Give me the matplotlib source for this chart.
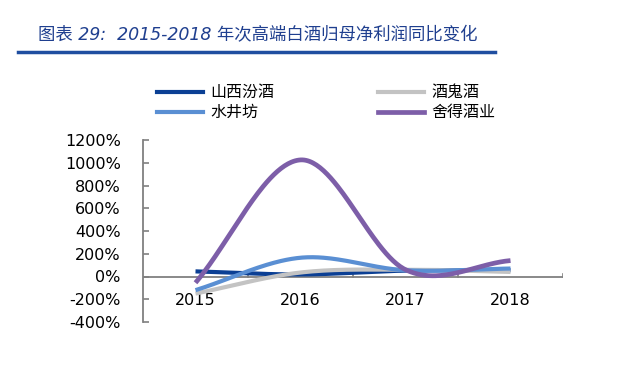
import numpy as np
import matplotlib
matplotlib.use("Agg")
import matplotlib.pyplot as plt
from matplotlib.lines import Line2D

plt.rcParams['font.family'] = ['DejaVu Sans', 'Noto Sans CJK SC']

years = ['2015', '2016', '2017', '2018']
fenjiu = [45, 18, 52, 55]        # 山西汾酒
jiuguijiu = [-150, 35, 60, 40]   # 酒鬼酒
shuijingfang = [-120, 165, 55, 70]  # 水井坊
shede = [-55, 1025, 60, 140]     # 舍得酒业
names = ['山西汾酒', '酒鬼酒', '水井坊', '舍得酒业']
colors = ['#0b3f94', '#c3c3c3', '#5a8fd3', '#7d5ea8']
widths = [3.0, 3.0, 3.0, 3.4]
yticks = list(range(-400, 1201, 200))
title = '图表 29:  2015-2018 年次高端白酒归母净利润同比变化'


def smooth(xs, ys, n=60):
    # Catmull-Rom style smoothing similar to Excel's smoothed line
    xs = np.asarray(xs, float); ys = np.asarray(ys, float)
    px = np.concatenate([[2 * xs[0] - xs[1]], xs, [2 * xs[-1] - xs[-2]]])
    py = np.concatenate([[2 * ys[0] - ys[1]], ys, [2 * ys[-1] - ys[-2]]])
    ox, oy = [], []
    for i in range(1, len(px) - 2):
        t = np.linspace(0, 1, n)
        p0, p1, p2, p3 = py[i - 1], py[i], py[i + 1], py[i + 2]
        x0, x1, x2, x3 = px[i - 1], px[i], px[i + 1], px[i + 2]
        b1y = p1 + (p2 - p0) / 6; b2y = p2 - (p3 - p1) / 6
        b1x = x1 + (x2 - x0) / 6; b2x = x2 - (x3 - x1) / 6
        yy = (1 - t) ** 3 * p1 + 3 * (1 - t) ** 2 * t * b1y + 3 * (1 - t) * t ** 2 * b2y + t ** 3 * p2
        xx = (1 - t) ** 3 * x1 + 3 * (1 - t) ** 2 * t * b1x + 3 * (1 - t) * t ** 2 * b2x + t ** 3 * x2
        ox.extend(xx); oy.extend(yy)
    return np.array(ox), np.array(oy)


W, H = 641, 375
fig = plt.figure(figsize=(W / 100, H / 100), dpi=100)
ax = fig.add_axes([143 / W, 1 - 322 / H, 420 / W, 182 / H])

x = np.arange(len(years))
series = [fenjiu, jiuguijiu, shuijingfang, shede]
for i in range(4):
    sx, sy = smooth(x, series[i])
    ax.plot(sx, sy, color=colors[i], lw=widths[i], solid_capstyle='butt', zorder=3 + i)

ax.set_xlim(-0.5, 3.5)
ax.set_ylim(-400, 1200)
ax.set_yticks(yticks)
ax.set_yticklabels([f'{v}%' for v in yticks], fontsize=11.5)
for s in ['top', 'right', 'bottom']:
    ax.spines[s].set_visible(False)
ax.spines['left'].set_color('#808080')
ax.spines['left'].set_linewidth(1.3)
ax.axhline(0, color='#808080', lw=1.3, zorder=2)
ax.tick_params(axis='y', direction='in', length=4, color='#808080', width=1.2, pad=16)
ax.set_xticks([])
for b in [0.5, 1.5, 2.5, 3.5]:
    ax.plot([b, b], [0, 25], color='#808080', lw=1.2, zorder=2)
for xi, yr in zip(x, years):
    ax.text(xi, -210, yr, ha='center', va='center', fontsize=11.5)

# title
fig.text(38 / W, 1 - 35 / H, title, fontsize=12.5, color='#1f3f8f', style='italic',
         family=['DejaVu Sans', 'Noto Sans CJK SC'], va='center')
fig.add_artist(Line2D([18 / W, 495 / W], [1 - 52 / H, 1 - 52 / H], color='#1f4ea0', lw=2.5))

# legend (row-major, drawn manually)
leg_pos = [(157, 92), (378, 92), (157, 112), (378, 112)]
for i, (lx, ly) in enumerate(leg_pos):
    fig.add_artist(Line2D([lx / W, (lx + 46) / W], [1 - ly / H, 1 - ly / H],
                          color=colors[i], lw=widths[i]))
    fig.text((lx + 53) / W, 1 - ly / H, names[i], fontsize=11.5, va='center',
             family=['Noto Sans CJK SC'])

fig.savefig('out.png', dpi=100)
